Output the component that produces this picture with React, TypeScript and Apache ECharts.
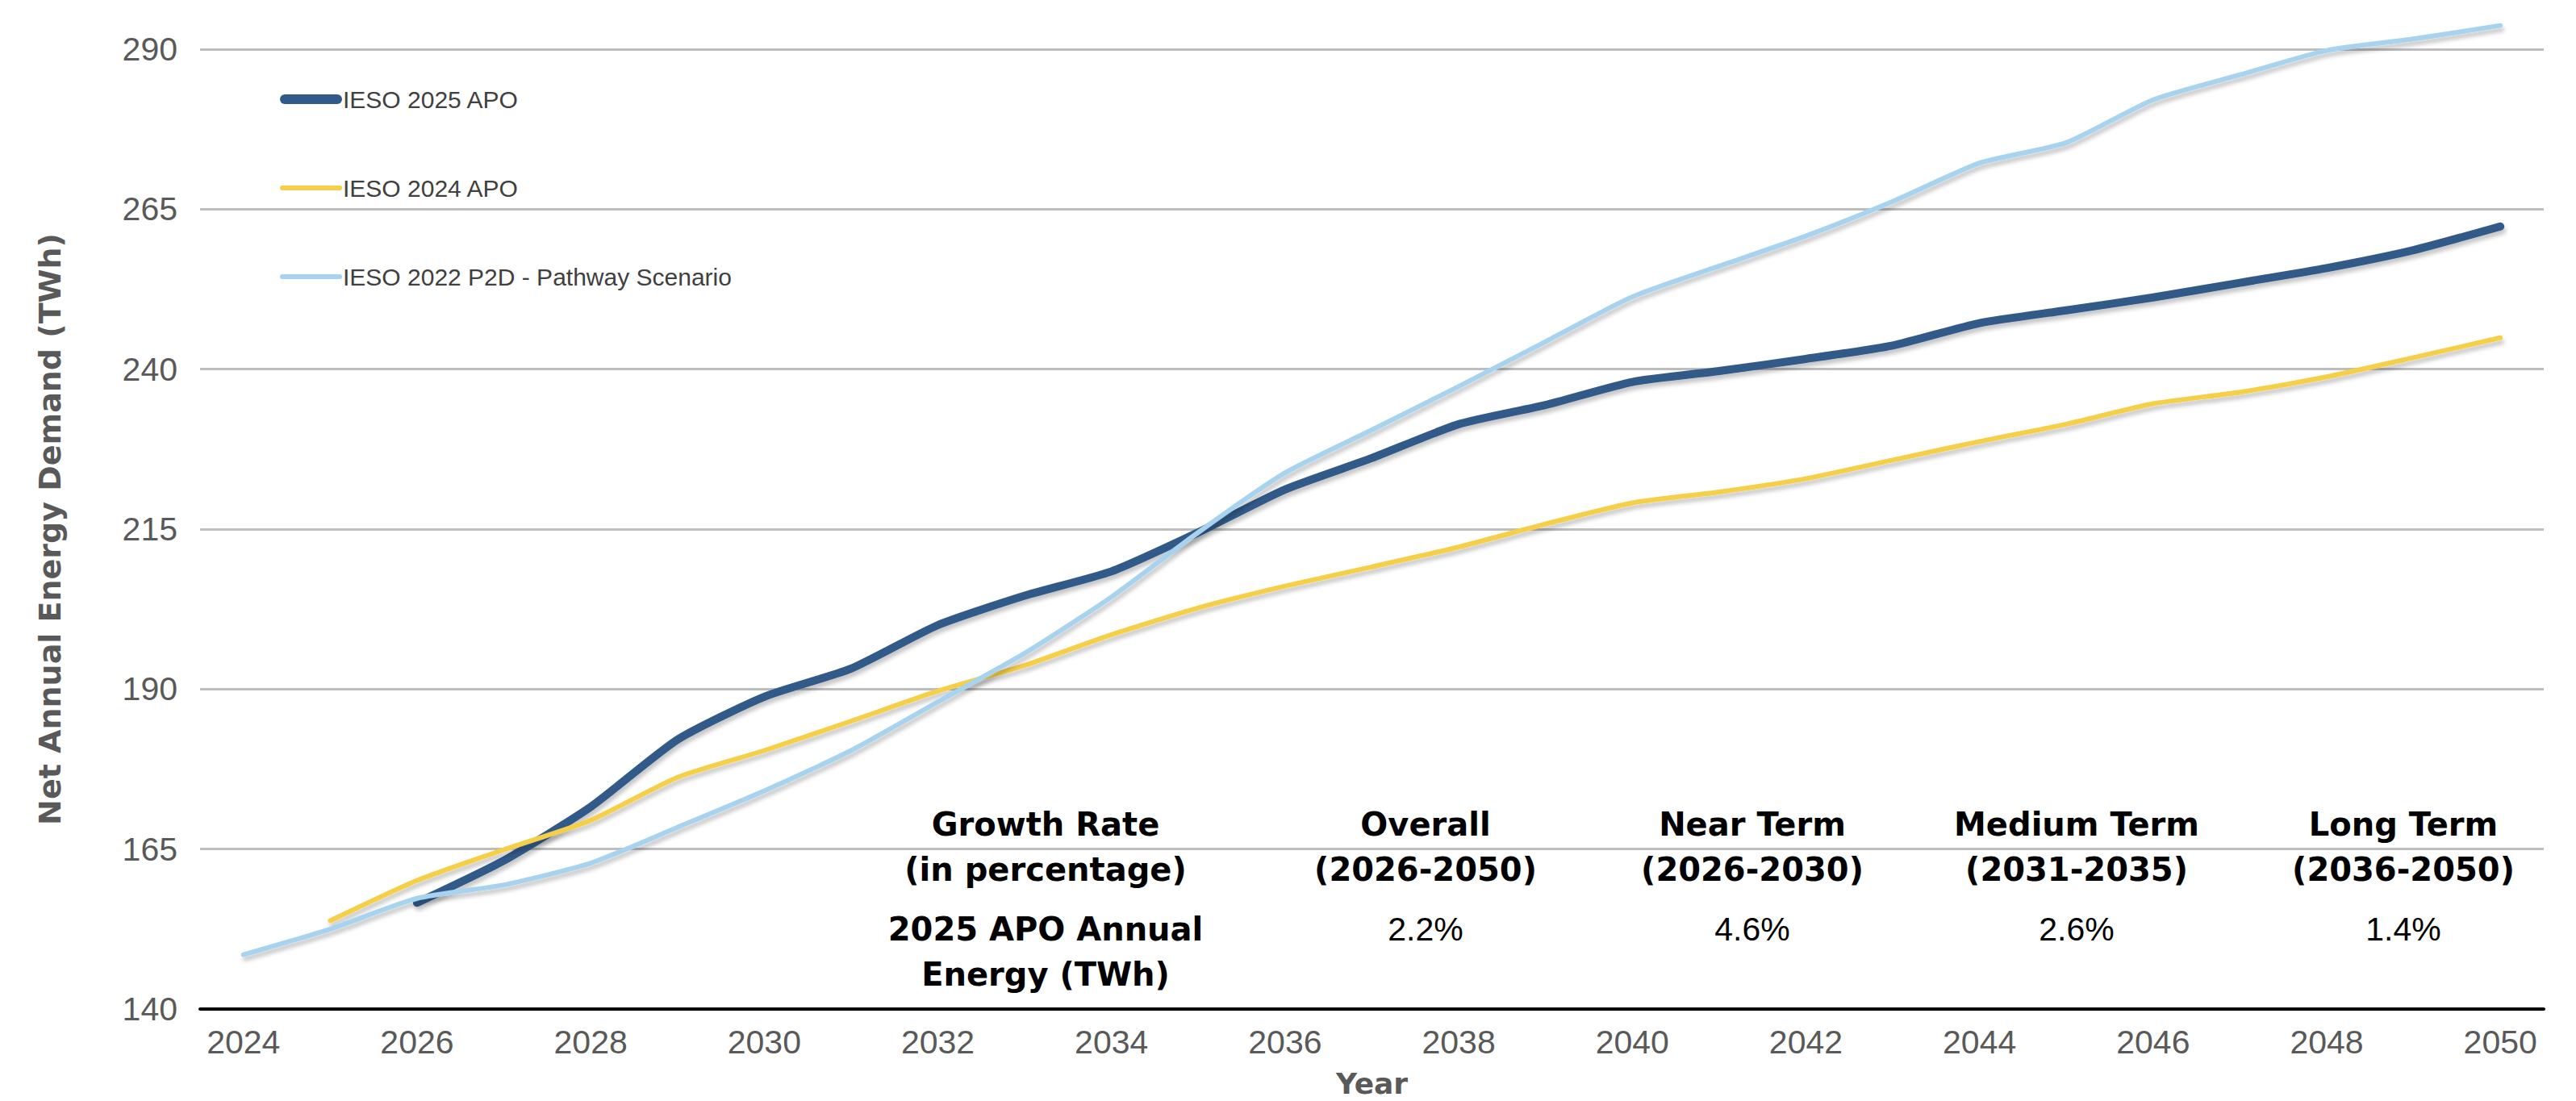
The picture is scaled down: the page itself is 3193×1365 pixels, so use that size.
import React, { useEffect, useRef } from "react";
import * as echarts from "echarts";

const years = [
  "2024", "2025", "2026", "2027", "2028", "2029", "2030", "2031", "2032",
  "2033", "2034", "2035", "2036", "2037", "2038", "2039", "2040", "2041",
  "2042", "2043", "2044", "2045", "2046", "2047", "2048", "2049", "2050",
];

const apo2025 = [
  null, null, 156.6, 163.2, 171.6, 182.1, 188.8, 193.2, 200.0, 204.6, 208.4,
  214.5, 221.2, 226.1, 231.4, 234.4, 238.0, 239.7, 241.6, 243.7, 247.2, 249.2,
  251.2, 253.5, 255.8, 258.6, 262.3,
];

const apo2024 = [
  null, 153.8, 160.1, 164.9, 169.5, 176.2, 180.4, 185.0, 189.7, 193.7, 198.5,
  202.7, 206.1, 209.1, 212.2, 215.8, 219.1, 220.8, 222.9, 225.8, 228.7, 231.4,
  234.6, 236.4, 238.8, 241.8, 244.9,
];

const p2dPathway = [
  148.5, 152.5, 157.3, 159.4, 162.8, 168.4, 174.1, 180.4, 188.0, 195.6, 204.4,
  214.5, 223.8, 230.5, 237.3, 244.3, 251.3, 256.1, 260.8, 266.2, 272.2, 275.4,
  282.1, 286.0, 289.8, 291.6, 293.7,
];

const seriesNames = [
  "IESO 2025 APO",
  "IESO 2024 APO",
  "IESO 2022 P2D - Pathway Scenario",
];

const yMin = 140;
const yMax = 290;
const yStep = 25;

const tableHeaders = [
  "Growth Rate\n(in percentage)",
  "Overall\n(2026-2050)",
  "Near Term\n(2026-2030)",
  "Medium Term\n(2031-2035)",
  "Long Term\n(2036-2050)",
];
const tableRowLabel = "2025 APO Annual\nEnergy (TWh)";
const growthRates = ["2.2%", "4.6%", "2.6%", "1.4%"];

const yAxisTitle = "Net Annual Energy Demand (TWh)";
const xAxisTitle = "Year";

export default function App() {
  const ref = useRef<HTMLDivElement>(null);

  useEffect(() => {
    if (!ref.current) return;
    const chart = echarts.init(ref.current, null, { renderer: "svg" });

    const regular = "'Liberation Sans', Arial, sans-serif";
    const bold = "'DejaVu Sans', Verdana, sans-serif";

    const colX = [1296, 1767, 2172, 2574, 2979];
    const headerY = 1050;
    const rowY = 1180;
    const valueY = 1152;
    const lineH = 56;

    const graphics: any[] = [];
    tableHeaders.forEach((t, i) => {
      graphics.push({
        type: "text",
        x: colX[i],
        y: headerY,
        z: 100,
        style: {
          text: t,
          align: "center",
          verticalAlign: "middle",
          textAlign: "center",
          textVerticalAlign: "middle",
          fontFamily: bold,
          fontWeight: "bold",
          fontSize: 40,
          lineHeight: lineH,
          fill: "#000000",
        },
      });
    });
    graphics.push({
      type: "text",
      x: colX[0],
      y: rowY,
      z: 100,
      style: {
        text: tableRowLabel,
        align: "center",
        verticalAlign: "middle",
        textAlign: "center",
        textVerticalAlign: "middle",
        fontFamily: bold,
        fontWeight: "bold",
        fontSize: 40,
        lineHeight: lineH,
        fill: "#000000",
      },
    });
    growthRates.forEach((t, i) => {
      graphics.push({
        type: "text",
        x: colX[i + 1],
        y: valueY,
        z: 100,
        style: {
          text: t,
          align: "center",
          verticalAlign: "middle",
          textAlign: "center",
          textVerticalAlign: "middle",
          fontFamily: regular,
          fontSize: 41,
          fill: "#000000",
        },
      });
    });
    graphics.push({
      type: "text",
      x: 62,
      y: 656,
      rotation: Math.PI / 2,
      z: 100,
      style: {
        text: yAxisTitle,
        align: "center",
        verticalAlign: "middle",
        textAlign: "center",
        textVerticalAlign: "middle",
        fontFamily: bold,
        fontWeight: "bold",
        fontSize: 38,
        fill: "#595959",
      },
    });

    const shadow = {
      shadowColor: "rgba(0,0,0,0.22)",
      shadowBlur: 5,
      shadowOffsetX: 2,
      shadowOffsetY: 5,
    };

    const colors = ["#305A89", "#F6CF4A", "#A8D3EF"];

    const mkSeries = (name: string, data: any[], color: string, width: number, z: number) => ({
      name,
      type: "line",
      data,
      showSymbol: false,
      symbol: "none",
      smooth: 0.2,
      clip: false,
      z,
      itemStyle: { color },
      lineStyle: { color, width, cap: "round", join: "round", ...shadow },
    });

    const thickIcon = "path://M6,0 L71,0 A6,6 0 0 1 71,12 L6,12 A6,6 0 0 1 6,0 Z";
    const thinIcon =
      "path://M0,0 L0,0 M0,12 L0,12 M3,3 L74,3 A3,3 0 0 1 74,9 L3,9 A3,3 0 0 1 3,3 Z";

    chart.setOption({
      animation: false,
      backgroundColor: "#ffffff",
      grid: {
        left: 248,
        right: 40,
        top: 61,
        bottom: 114,
        containLabel: false,
        outerBoundsMode: "none",
      },
      legend: {
        orient: "vertical",
        left: 342,
        top: 103,
        itemWidth: 77,
        itemHeight: 12,
        itemGap: 80,
        data: [
          { name: seriesNames[0], icon: thickIcon, itemStyle: { color: colors[0], borderWidth: 0 } },
          { name: seriesNames[1], icon: thinIcon, itemStyle: { color: colors[1], borderWidth: 0 } },
          { name: seriesNames[2], icon: thinIcon, itemStyle: { color: colors[2], borderWidth: 0 } },
        ],
        textStyle: {
          fontFamily: regular,
          fontSize: 30,
          lineHeight: 30,
          color: "#404040",
          padding: [0, 0, 0, -4],
        },
      },
      xAxis: {
        type: "category",
        data: years,
        boundaryGap: true,
        name: xAxisTitle,
        nameLocation: "middle",
        nameGap: 74,
        nameTextStyle: {
          fontFamily: bold,
          fontWeight: "bold",
          fontSize: 36,
          color: "#595959",
          verticalAlign: "top",
        },
        axisLine: { show: true, lineStyle: { color: "#000000", width: 4 } },
        axisTick: { show: false },
        axisLabel: {
          interval: 1,
          margin: 20,
          fontFamily: regular,
          fontSize: 41,
          color: "#595959",
        },
        splitLine: { show: false },
      },
      yAxis: {
        type: "value",
        min: yMin,
        max: yMax,
        interval: yStep,
        axisLine: { show: false },
        axisTick: { show: false },
        axisLabel: {
          margin: 28,
          fontFamily: regular,
          fontSize: 41,
          color: "#595959",
        },
        splitLine: { show: true, lineStyle: { color: "#bdbdbd", width: 3 } },
      },
      graphic: graphics,
      series: [
        mkSeries(seriesNames[0], apo2025, colors[0], 10, 3),
        mkSeries(seriesNames[1], apo2024, colors[1], 6, 4),
        mkSeries(seriesNames[2], p2dPathway, colors[2], 6, 5),
      ],
    });

    return () => {
      chart.dispose();
    };
  }, []);

  return (
    <div
      ref={ref}
      style={{ position: "fixed", left: 0, top: 0, width: 3193, height: 1365, background: "#fff" }}
    />
  );
}
